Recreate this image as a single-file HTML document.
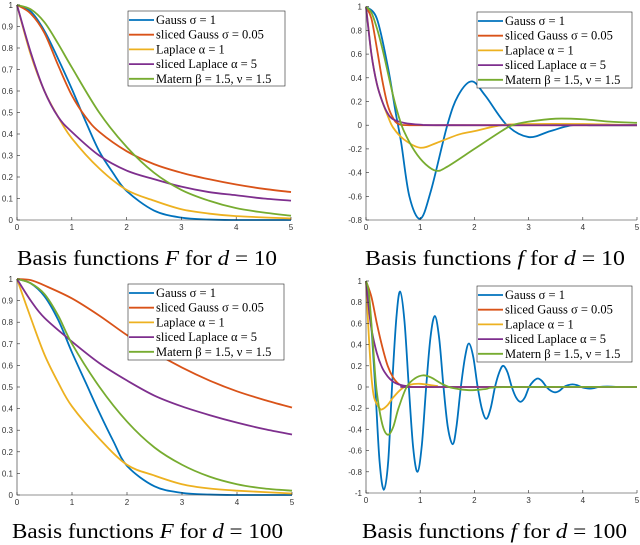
<!DOCTYPE html>
<html><head><meta charset="utf-8"><style>
body{margin:0;background:#fff;}
svg{display:block;font-family:"Liberation Serif",serif;}
.tick{font-family:"Liberation Sans",sans-serif;font-size:8px;fill:#333;}
</style></head><body>
<svg id="fig" width="640" height="545" viewBox="0 0 640 545" xmlns="http://www.w3.org/2000/svg"></svg>
<script>
// ---- Data ----
// Panel A: F, d=10
const aGaussX=[0,0.25,0.5,0.75,1,1.25,1.5,1.75,2,2.5,3,3.5,4,5];
const aGaussY=[1,0.97,0.88,0.75,0.61,0.46,0.32,0.22,0.135,0.044,0.011,0.002,0,0];
const aSGaussX=[0,0.25,0.5,0.75,1,1.25,1.5,2,2.5,3,3.5,4,4.5,5];
const aSGaussY=[1,0.96,0.87,0.72,0.58,0.48,0.41,0.32,0.26,0.22,0.19,0.165,0.145,0.13];
const aLapX=[0,0.25,0.5,0.75,1,1.5,2,2.5,3,3.5,4,5];
const aLapY=[1,0.77,0.6,0.48,0.38,0.24,0.14,0.09,0.05,0.03,0.018,0.007];
const aSLapX=[0,0.25,0.5,0.75,1,1.5,2,2.5,3,3.5,4,4.5,5];
const aSLapY=[1,0.78,0.6,0.48,0.41,0.3,0.23,0.19,0.155,0.13,0.115,0.1,0.09];
const aMatX=[0,0.25,0.5,0.75,1,1.5,2,2.5,3,3.5,4,4.5,5];
const aMatY=[1,0.98,0.92,0.82,0.71,0.5,0.34,0.22,0.14,0.09,0.055,0.035,0.02];
// Panel B: f, d=10
const bGaussX=[0,0.2,0.4,0.55,0.65,0.8,1,1.2,1.5,1.7,1.95,2.2,2.6,3.0,3.4,3.8,4.2,5];
const bGaussY=[1,0.9,0.5,0.1,-0.15,-0.6,-0.79,-0.55,0,0.25,0.37,0.25,0,-0.1,-0.05,0,0,0];
const bSGaussX=[0,0.1,0.2,0.3,0.4,0.5,0.6,0.8,1.5,5];
const bSGaussY=[1,0.9,0.65,0.38,0.17,0.06,0.01,0,0,0];
const bLapX=[0,0.05,0.1,0.2,0.3,0.4,0.5,0.7,1,1.3,1.7,2,2.5,3,4,5];
const bLapY=[1,0.8,0.6,0.35,0.2,0.08,-0.02,-0.12,-0.19,-0.15,-0.08,-0.05,0,0.01,0.01,0];
const bSLapX=[0,0.1,0.2,0.3,0.4,0.5,0.7,1,1.5,5];
const bSLapY=[1,0.6,0.35,0.2,0.1,0.05,0.02,0.005,0,0];
const bMatX=[0,0.1,0.2,0.3,0.4,0.5,0.6,0.7,0.9,1.1,1.3,1.5,2,2.5,2.7,3,3.5,4,4.5,5];
const bMatY=[1,0.95,0.82,0.65,0.45,0.25,0.08,-0.05,-0.22,-0.33,-0.385,-0.35,-0.2,-0.05,0,0.03,0.055,0.05,0.03,0.02];
// Panel C: F, d=100
const cGaussX=[0,0.25,0.5,0.75,1,1.25,1.5,1.75,2,2.5,3,3.5,4,5];
const cGaussY=[1,0.98,0.92,0.81,0.66,0.52,0.38,0.25,0.135,0.04,0.01,0.002,0,0];
const cSGaussX=[0,0.25,0.5,1,1.5,2,2.5,3,3.5,4,4.5,5];
const cSGaussY=[1,0.995,0.97,0.91,0.83,0.74,0.66,0.59,0.53,0.48,0.44,0.405];
const cLapX=[0,0.25,0.5,0.75,1,1.5,2,2.5,3,3.5,4,5];
const cLapY=[1,0.82,0.65,0.52,0.41,0.26,0.14,0.09,0.05,0.03,0.02,0.007];
const cSLapX=[0,0.25,0.5,1,1.5,2,2.5,3,3.5,4,4.5,5];
const cSLapY=[1,0.9,0.82,0.71,0.61,0.53,0.46,0.41,0.37,0.335,0.305,0.28];
const cMatX=[0,0.25,0.5,0.75,1,1.5,2,2.5,3,3.5,4,4.5,5];
const cMatY=[1,0.98,0.93,0.83,0.7,0.5,0.34,0.22,0.14,0.085,0.05,0.03,0.02];
// Panel D: f, d=100
const dGaussX=[0,0.08,0.17,0.25,0.33,0.41,0.48,0.56,0.63,0.71,0.79,0.87,0.95,1.03,1.11,1.19,1.27,1.35,1.43,1.51,1.6,1.67,1.75,1.83,1.9,1.98,2.06,2.14,2.22,2.3,2.38,2.46,2.53,2.61,2.69,2.77,2.85,2.93,3.01,3.09,3.17,3.25,3.33,3.41,3.49,3.57,3.65,3.73,3.81,3.89,3.97,4.05,4.13,4.21,4.29,4.45,4.7,5];
const dGaussY=[1,0.7,0,-0.7,-0.97,-0.7,0,0.65,0.9,0.62,0,-0.57,-0.8,-0.55,0,0.47,0.67,0.46,0,-0.38,-0.54,-0.37,0,0.29,0.41,0.28,0,-0.21,-0.3,-0.2,0,0.14,0.2,0.14,0,-0.1,-0.14,-0.1,0,0.055,0.08,0.055,0,-0.035,-0.05,-0.035,0,0.018,0.025,0.018,0,-0.01,-0.015,-0.01,0,0.005,0,0];
const dSGaussX=[0,0.1,0.2,0.3,0.4,0.5,0.6,0.7,0.8,1.5,5];
const dSGaussY=[1,0.85,0.6,0.38,0.2,0.09,0.03,0.005,0,0,0];
const dLapX=[0,0.05,0.1,0.15,0.25,0.3,0.4,0.5,0.65,0.8,1,1.3,1.6,5];
const dLapY=[1,0.5,0.1,-0.1,-0.2,-0.21,-0.17,-0.1,-0.02,0.02,0.03,0.01,0,0];
const dSLapX=[0,0.05,0.1,0.2,0.3,0.4,0.5,0.6,0.8,1,5];
const dSLapY=[1,0.75,0.55,0.32,0.18,0.1,0.05,0.025,0.005,0,0];
const dMatX=[0,0.05,0.1,0.15,0.2,0.3,0.4,0.5,0.6,0.75,0.9,1.05,1.2,1.4,1.6,1.9,2.2,2.6,5];
const dMatY=[1,0.9,0.6,0.25,-0.05,-0.35,-0.45,-0.38,-0.2,0,0.08,0.11,0.09,0.03,-0.01,-0.03,-0.02,0,0];

const xTicks=[0,1,2,3,4,5];
const ticksF=[0,0.1,0.2,0.3,0.4,0.5,0.6,0.7,0.8,0.9,1];
const ticksF10=["0","0.1","0.2","0.3","0.4","0.5","0.6","0.7","0.8","0.9","1"];
const ticksB=[-0.8,-0.6,-0.4,-0.2,0,0.2,0.4,0.6,0.8,1];
const ticksBL=["-0.8","-0.6","-0.4","-0.2","0","0.2","0.4","0.6","0.8","1"];
const ticksD=[-1,-0.8,-0.6,-0.4,-0.2,0,0.2,0.4,0.6,0.8,1];
const ticksDL=["-1","-0.8","-0.6","-0.4","-0.2","0","0.2","0.4","0.6","0.8","1"];
const legendNames=["Gauss σ = 1","sliced Gauss σ = 0.05","Laplace α = 1","sliced Laplace α = 5","Matern β = 1.5, ν = 1.5"];
const colors=["#0072BD","#D95319","#EDB120","#7E2F8E","#77AC30"];

const NS="http://www.w3.org/2000/svg";
const fig=document.getElementById('fig');
function mk(tag,attrs,parent){const e=document.createElementNS(NS,tag);for(const k in attrs)e.setAttribute(k,attrs[k]);parent.appendChild(e);return e;}
function spline(pts){
  let d="M"+pts[0][0].toFixed(2)+","+pts[0][1].toFixed(2);
  for(let i=0;i<pts.length-1;i++){
    const p0=pts[Math.max(i-1,0)],p1=pts[i],p2=pts[i+1],p3=pts[Math.min(i+2,pts.length-1)];
    const c1=[p1[0]+(p2[0]-p0[0])/6,p1[1]+(p2[1]-p0[1])/6];
    const c2=[p2[0]-(p3[0]-p1[0])/6,p2[1]-(p3[1]-p1[1])/6];
    d+=" C"+c1[0].toFixed(2)+","+c1[1].toFixed(2)+" "+c2[0].toFixed(2)+","+c2[1].toFixed(2)+" "+p2[0].toFixed(2)+","+p2[1].toFixed(2);
  }
  return d;
}
function panel(cfg){
  const g=mk('g',{},fig);
  
  
  const sx=v=>cfg.x0+(v-0)/5*(cfg.x1-cfg.x0);
  const sy=v=>cfg.yb+(v-cfg.ymin)/(cfg.ymax-cfg.ymin)*(cfg.yt-cfg.yb);
  // series
  cfg.series.forEach((s,i)=>{
    const pts=s[0].map((x,j)=>[sx(x),sy(s[1][j])]);
    const p=mk('path',{d:spline(pts),fill:'none',stroke:colors[i],'stroke-width':1.8,'stroke-linejoin':'round'},g);
    
    
  });
  // axes
  const ax=mk('path',{d:`M${cfg.x0},${cfg.yt} V${cfg.yb} H${cfg.x1}`,fill:'none',stroke:'#262626','stroke-width':0.6},g);
  
  
  xTicks.forEach(t=>{
    mk('line',{x1:sx(t),x2:sx(t),y1:cfg.yb,y2:cfg.yb-3,stroke:'#262626','stroke-width':0.6},g);
    const tx=mk('text',{x:sx(t),y:cfg.yb+10,'text-anchor':'middle',class:'tick'},g);
    tx.textContent=String(t);
    
    
  });
  cfg.yticks.forEach((t,i)=>{
    mk('line',{x1:cfg.x0,x2:cfg.x0+3,y1:sy(t),y2:sy(t),stroke:'#262626','stroke-width':0.6},g);
    const tx=mk('text',{x:cfg.x0-4,y:sy(t)+3,'text-anchor':'end',class:'tick'},g);
    tx.textContent=cfg.ylabels[i];
    
    
  });
  // legend
  const L=cfg.leg;
  const lg=mk('g',{},g);
  
  
  mk('rect',{x:L[0],y:L[1],width:L[2]-L[0],height:L[3]-L[1],fill:'#fff',stroke:'#262626','stroke-width':0.6},lg);
  legendNames.forEach((n,i)=>{
    const cy=L[1]+9+i*14.7;
    mk('line',{x1:L[0]+1,x2:L[0]+26,y1:cy,y2:cy,stroke:colors[i],'stroke-width':1.8},lg);
    const t=mk('text',{x:L[0]+28,y:cy+4,'font-size':'12.5px',fill:'#000'},lg);
    t.textContent=n;
    
    
  });
  const tt=mk('text',{x:cfg.tx0,y:cfg.ty,'font-size':'21px',fill:'#000',textLength:cfg.tx1-cfg.tx0,lengthAdjust:'spacingAndGlyphs'},g);
  tt.innerHTML=cfg.title;
  
  
}
panel({name:'panel-F-d10',x0:17,x1:291,yt:5,yb:220,ymin:0,ymax:1,yticks:ticksF,ylabels:ticksF10,
  series:[[aGaussX,aGaussY],[aSGaussX,aSGaussY],[aLapX,aLapY],[aSLapX,aSLapY],[aMatX,aMatY]],
  leg:[128,11,285,86],tx0:17,tx1:277,ty:265,title:'Basis functions <tspan font-style="italic">F</tspan> for <tspan font-style="italic">d</tspan> = 10'});
panel({name:'panel-f-d10',x0:366,x1:637,yt:6.7,yb:220,ymin:-0.8,ymax:1,yticks:ticksB,ylabels:ticksBL,
  series:[[bGaussX,bGaussY],[bSGaussX,bSGaussY],[bLapX,bLapY],[bSLapX,bSLapY],[bMatX,bMatY]],
  leg:[477,12,632,88],tx0:365,tx1:625,ty:265,title:'Basis functions <tspan font-style="italic">f</tspan> for <tspan font-style="italic">d</tspan> = 10'});
panel({name:'panel-F-d100',x0:17,x1:292,yt:279,yb:495,ymin:0,ymax:1,yticks:ticksF,ylabels:ticksF10,
  series:[[cGaussX,cGaussY],[cSGaussX,cSGaussY],[cLapX,cLapY],[cSLapX,cSLapY],[cMatX,cMatY]],
  leg:[128,284,284,360],tx0:12,tx1:283,ty:538,title:'Basis functions <tspan font-style="italic">F</tspan> for <tspan font-style="italic">d</tspan> = 100'});
panel({name:'panel-f-d100',x0:366,x1:637,yt:281,yb:493,ymin:-1,ymax:1,yticks:ticksD,ylabels:ticksDL,
  series:[[dGaussX,dGaussY],[dSGaussX,dSGaussY],[dLapX,dLapY],[dSLapX,dSLapY],[dMatX,dMatY]],
  leg:[477,286,632,362],tx0:362,tx1:627,ty:538,title:'Basis functions <tspan font-style="italic">f</tspan> for <tspan font-style="italic">d</tspan> = 100'});
</script>
</body></html>
